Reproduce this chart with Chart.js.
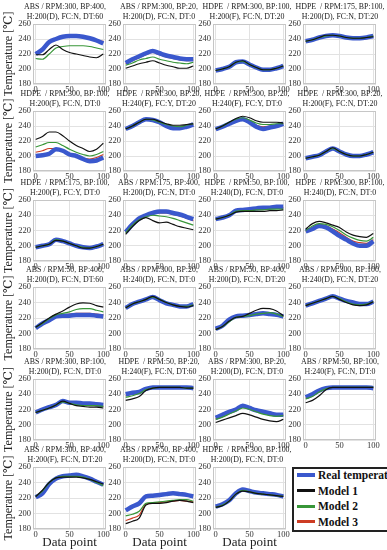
<!DOCTYPE html>
<html>
<head>
<meta charset="utf-8">
<script src="https://cdn.jsdelivr.net/npm/chart.js@4.4.1/dist/chart.umd.min.js"></script>
<style>
html, body { margin: 0; padding: 0; background: #fff; }
body { width: 387px; height: 550px; position: relative; overflow: hidden; }
canvas { position: absolute; }
.ptitle { position: absolute; width: 130px; text-align: center; white-space: pre;
  font: 7.9px/10.5px 'Liberation Serif', 'DejaVu Serif', serif; color: #222; }
#legend { position: absolute; left: 292px; top: 467px; width: 120px; height: 61px; border: 2px solid #222;
  font: bold 11.5px 'Liberation Serif', 'DejaVu Serif', serif; color: #111; background: #fff; }
#legend .item { position: absolute; left: 0; height: 14px; line-height: 14px; white-space: nowrap; }
#legend .sw { position: absolute; left: 3px; width: 18px; }
#legend .txt { position: absolute; left: 24px; top: 0; }
</style>
</head>
<body>
<div id="legend"></div>
<script>
// x positions of the sampled points, ticks
const xPoints = [0, 10, 20, 30, 40, 50, 60, 70, 80, 90, 100];
const xTicks = [0, 50, 100];
const yTicks = [180, 200, 220, 240, 260];

const seriesNames = ['Real temperature', 'Model 1', 'Model 2', 'Model 3'];
const seriesColors = ['rgb(58,88,205)', '#111111', 'rgb(56,150,56)', 'rgb(205,60,35)'];

const panelTitles = [
  ['ABS / RPM:300, BP:400,', 'H:200(D), FC:N, DT:60'],
  ['ABS / RPM:300, BP:20,', 'H:200(D), FC:N, DT:0'],
  ['HDPE  / RPM:300, BP:100,', 'H:200(F), FC:N, DT:20'],
  ['HDPE  / RPM:175, BP:100,', 'H:200(D), FC:N, DT:20'],
  ['HDPE  / RPM:300, BP:100,', 'H:200(F), FC:N, DT:0'],
  ['HDPE  / RPM:300, BP:20,', 'H:240(F), FC:Y, DT:20'],
  ['HDPE  / RPM:300, BP:20,', 'H:240(F), FC:Y, DT:0'],
  ['HDPE  / RPM:300, BP:20,', 'H:200(F), FC:N, DT:20'],
  ['HDPE  / RPM:175, BP:100,', 'H:200(F), FC:Y, DT:0'],
  ['ABS / RPM:175, BP:400,', 'H:200(D), FC:N, DT:0'],
  ['HDPE  / RPM:50, BP:100,', 'H:240(D), FC:N, DT:0'],
  ['HDPE  / RPM:300, BP:100,', 'H:240(D), FC:N, DT:0'],
  ['ABS / RPM:50, BP:400,', 'H:200(D), FC:N, DT:60'],
  ['ABS / RPM:300, BP:20,', 'H:240(D), FC:N, DT:0'],
  ['ABS / RPM:50, BP:400,', 'H:200(D), FC:N, DT:20'],
  ['ABS / RPM:300, BP:100,', 'H:240(D), FC:N, DT:20'],
  ['ABS / RPM:300, BP:100,', 'H:200(D), FC:N, DT:0'],
  ['HDPE  / RPM:50, BP:20,', 'H:240(F), FC:N, DT:60'],
  ['ABS / RPM:300, BP:20,', 'H:200(D), FC:N, DT:0'],
  ['ABS / RPM:50, BP:100,', 'H:240(F), FC:N, DT:0'],
  ['ABS / RPM:300, BP:400,', 'H:200(F), FC:N, DT:20'],
  ['ABS / RPM:50, BP:400,', 'H:200(D), FC:N, DT:0'],
  ['HDPE  / RPM:300, BP:100,', 'H:200(D), FC:N, DT:0']
];

const realTemp = [
  [220, 226, 236, 240, 243, 244, 244, 243, 241, 238, 234],
  [208, 213, 217, 221, 224, 221, 218, 216, 214, 213, 213],
  [198, 200, 203, 209, 210, 206, 202, 199, 199, 201, 204],
  [237, 239, 242, 244, 245, 244, 242, 241, 241, 242, 244],
  [200, 201, 203, 209, 207, 202, 200, 196, 193, 194, 198],
  [236, 240, 245, 249, 248, 245, 240, 237, 237, 239, 242],
  [236, 239, 243, 247, 249, 245, 239, 236, 238, 240, 243],
  [197, 199, 201, 206, 210, 206, 202, 200, 200, 202, 205],
  [198, 200, 202, 208, 206, 203, 200, 198, 197, 199, 202],
  [218, 228, 236, 240, 243, 245, 245, 243, 241, 238, 235],
  [235, 237, 240, 246, 247, 248, 249, 250, 250, 251, 251],
  [219, 222, 226, 224, 219, 213, 208, 203, 200, 200, 206],
  [207, 213, 217, 222, 223, 223, 224, 224, 224, 223, 222],
  [233, 238, 241, 244, 247, 243, 239, 237, 235, 235, 238],
  [206, 210, 218, 222, 223, 224, 225, 226, 225, 224, 222],
  [236, 239, 242, 245, 248, 245, 242, 240, 238, 238, 241],
  [216, 220, 223, 226, 231, 229, 229, 228, 228, 227, 226],
  [240, 242, 243, 247, 249, 249, 249, 249, 249, 249, 248],
  [209, 213, 217, 220, 225, 222, 219, 217, 215, 213, 213],
  [236, 240, 245, 248, 249, 249, 249, 249, 249, 249, 248],
  [221, 226, 238, 245, 248, 249, 250, 248, 245, 241, 237],
  [204, 209, 213, 222, 223, 224, 225, 226, 225, 224, 222],
  [209, 212, 217, 226, 231, 229, 227, 226, 225, 224, 222]
];

const model1 = [
  [219, 219, 226, 232, 226, 222, 220, 218, 216, 215, 220],
  [201, 204, 207, 209, 211, 208, 205, 203, 201, 201, 204],
  [198, 200, 203, 209, 211, 206, 202, 199, 199, 201, 204],
  [237, 239, 242, 245, 245, 244, 242, 241, 241, 242, 243],
  [222, 226, 232, 232, 227, 220, 214, 210, 206, 209, 217],
  [236, 240, 245, 249, 249, 246, 243, 241, 241, 242, 243],
  [236, 240, 245, 250, 253, 251, 247, 245, 245, 245, 244],
  [197, 199, 201, 206, 211, 206, 202, 200, 200, 202, 205],
  [198, 200, 202, 207, 206, 203, 200, 197, 197, 199, 202],
  [215, 225, 233, 237, 233, 230, 231, 228, 225, 223, 221],
  [235, 237, 240, 244, 245, 245, 245, 245, 246, 246, 247],
  [222, 229, 232, 230, 227, 224, 218, 214, 212, 211, 216],
  [208, 214, 220, 225, 229, 234, 238, 239.5, 239, 236, 234],
  [233, 238, 241, 244, 248, 244, 240, 237, 235, 234, 236],
  [205, 209, 216, 221, 222, 226, 230, 232.5, 232, 229, 223],
  [236, 239, 242, 245, 248, 244, 240, 237, 236, 237, 241],
  [216, 219, 222, 226, 231, 228, 225, 224, 223, 223, 222],
  [232, 234, 237, 245, 248, 249, 249, 249, 249, 248, 248],
  [203, 206, 209, 212, 215, 213, 210, 207, 205, 204, 207],
  [229, 232, 238, 246, 249, 249, 249, 249, 249, 249, 249],
  [222, 230, 240, 246, 247, 247, 247, 246, 244, 241, 238],
  [187, 190, 194, 211, 213, 213, 214, 216, 217, 216, 214],
  [208, 210, 216, 225, 229, 228, 226, 225, 224, 223, 222]
];

const model2 = [
  [214, 213, 220, 228, 230, 231, 231, 231, 230, 228, 226],
  [205, 208, 212, 214, 216, 213, 211, 209, 208, 207, 209],
  [198, 200, 203, 209, 210, 206, 202, 199, 199, 201, 204],
  [237, 239, 242, 244, 245, 244, 242, 241, 241, 242, 244],
  [212, 215, 218, 218, 214, 209, 205, 202, 200, 202, 206],
  [236, 240, 245, 249, 248, 245, 242, 240, 239, 241, 243],
  [236, 240, 245, 249, 251, 248, 244, 242, 242, 243, 243],
  [197, 199, 201, 206, 210, 206, 202, 200, 200, 202, 205],
  [198, 200, 202, 208, 206, 203, 200, 198, 197, 199, 202],
  [217, 227, 234, 238, 240, 239, 238, 236, 233, 230, 227],
  [235, 237, 240, 245, 246, 246, 247, 247, 248, 248, 248],
  [220, 226, 229, 228, 225, 220, 214, 210, 207, 206, 211],
  [208, 213, 219, 224, 226, 228, 231, 232, 232, 230, 228],
  [233, 238, 241, 244, 247, 244, 240, 237, 235, 235, 237],
  [205, 209, 215, 221, 222, 223, 225, 226, 227, 225, 222],
  [236, 239, 242, 245, 248, 245, 241, 238, 237, 238, 241],
  [216, 219, 222, 226, 230, 228, 226, 225, 225, 225, 224],
  [236, 238, 241, 246, 248, 249, 249, 249, 249, 248, 248],
  [207, 210, 214, 218, 222, 220, 217, 214, 212, 211, 212],
  [234, 237, 243, 247, 249, 249, 249, 249, 249, 249, 249],
  [222, 229, 240, 246, 248, 248, 248, 247, 244, 240, 236],
  [197, 199, 203, 213, 214, 215, 216, 217, 218, 218, 216],
  [208, 211, 216, 225, 230, 228, 226, 225, 224, 223, 222]
];

const model3 = [
  [221, 226, 235, 240, 242, 243, 243, 242, 240, 238, 237],
  [207, 211, 215, 219, 222, 219, 216, 214, 212, 211, 212],
  [198, 200, 203, 209, 210, 206, 202, 199, 199, 201, 204],
  [237, 239, 242, 244, 245, 244, 242, 241, 241, 242, 244],
  [205, 207, 210, 210, 206, 202, 199, 197, 196, 198, 202],
  [236, 240, 245, 249, 248, 245, 241, 238, 238, 240, 242],
  [236, 239, 244, 248, 250, 246, 241, 239, 240, 241, 243],
  [197, 199, 201, 206, 210, 206, 202, 200, 200, 202, 205],
  [198, 200, 202, 208, 206, 203, 200, 198, 197, 199, 202],
  [218, 227, 235, 239, 242, 243, 243, 241, 239, 236, 233],
  [235, 237, 240, 245, 247, 247, 248, 249, 249, 250, 250],
  [219, 224, 228, 226, 222, 217, 211, 206, 204, 203, 208],
  [208, 213, 218, 223, 224, 225, 226, 226, 226, 225, 224],
  [233, 238, 241, 244, 247, 243, 239, 237, 235, 235, 238],
  [206, 210, 217, 221, 222, 224, 225, 226, 226, 225, 222],
  [236, 239, 242, 245, 248, 245, 242, 239, 238, 238, 241],
  [216, 219, 223, 226, 231, 229, 227, 226, 226, 225, 224],
  [238, 240, 242, 246, 249, 249, 249, 249, 249, 248, 248],
  [208, 212, 216, 219, 224, 221, 218, 216, 214, 212, 213],
  [235, 239, 244, 248, 249, 249, 249, 249, 249, 249, 248],
  [221, 228, 239, 245, 248, 249, 249, 248, 245, 241, 237],
  [191, 194, 198, 212, 213, 214, 215, 216, 217, 216, 215],
  [209, 211, 216, 225, 230, 229, 227, 225, 225, 224, 222]
];

// layout of the grid of small plots (plot area edges in px)
const plotLeft = [33, 123, 213, 303];
const plotTop = [24, 111, 200, 287, 379, 467];
const plotBottom = [84, 171, 261, 349, 440, 529];
const plotW = 73;
const titleCentre = [32, 36, 34, 37];   // title centre measured from each plot's left edge

const serif = "'Liberation Serif', 'DejaVu Serif', serif";
Chart.defaults.font.family = serif;

// light grey box round each plot area
const frame = {
  id: 'frame',
  beforeDatasetsDraw(chart) {
    const {ctx, chartArea: a} = chart;
    ctx.save();
    ctx.strokeStyle = '#c6c6c6';
    ctx.lineWidth = 1;
    ctx.strokeRect(Math.round(a.left) + 0.5, Math.round(a.top) + 0.5, Math.round(a.width) - 1, Math.round(a.height) - 1);
    ctx.restore();
  }
};

const lineWidths = [4.5, 1.2, 1.2, 1.2];
const drawOrder = [2, 0, 1, 3];

panelTitles.forEach((title, i) => {
  const r = Math.floor(i / 4), c = i % 4;
  const firstCol = c === 0, lastRow = r === 5;
  const xAxisH = lastRow ? 550 - plotBottom[r] : 12;

  const cv = document.createElement('canvas');
  cv.width = 33 + plotW + 8;
  cv.height = 24 + plotBottom[r] - plotTop[r] + xAxisH;
  cv.style.left = (plotLeft[c] - 33) + 'px';
  cv.style.top = (plotTop[r] - 24) + 'px';
  document.body.appendChild(cv);

  // two-line subplot title above the plot area
  const tdiv = document.createElement('div');
  tdiv.className = 'ptitle';
  tdiv.textContent = title.join('\n');
  tdiv.style.left = (plotLeft[c] + titleCentre[c] - 65) + 'px';
  tdiv.style.top = (plotTop[r] - 22.5) + 'px';
  document.body.appendChild(tdiv);

  const series = [realTemp[i], model1[i], model2[i], model3[i]];

  new Chart(cv, {
    type: 'line',
    data: {
      datasets: series.map((vals, k) => ({
        label: seriesNames[k],
        data: vals.map((v, j) => ({x: xPoints[j], y: v})),
        borderColor: seriesColors[k],
        borderWidth: lineWidths[k],
        pointRadius: 0,
        cubicInterpolationMode: 'monotone',
        order: drawOrder[k],
        fill: false
      }))
    },
    options: {
      responsive: false,
      animation: false,
      events: [],
      layout: {padding: {left: 0, right: 8, top: 24, bottom: 0}},
      plugins: {
        legend: {display: false},
        tooltip: {enabled: false},
        title: {display: false}
      },
      scales: {
        x: {
          type: 'linear', min: -4, max: 104,
          afterBuildTicks: s => { s.ticks = xTicks.map(v => ({value: v})); },
          afterFit: s => { s.height = xAxisH; },
          grid: {color: '#e2e2e2', drawTicks: false},
          border: {display: false},
          ticks: {color: '#333', font: {size: 8.5}, padding: 1, maxRotation: 0},
          title: {display: lastRow, text: 'Data point', color: '#222', font: {size: 13}, padding: 0}
        },
        y: {
          min: 180, max: 260,
          afterBuildTicks: s => { s.ticks = yTicks.map(v => ({value: v})); },
          afterFit: s => { s.width = 33; },
          grid: {color: '#e2e2e2', drawTicks: false},
          border: {display: false},
          ticks: {color: '#333', font: {size: 8.5}, padding: 2},
          title: {display: firstCol, text: 'Temperature [℃]', color: '#222', font: {size: 12}, padding: {top: 2, bottom: 0}}
        }
      }
    },
    plugins: [frame]
  });
});

// legend box in the empty bottom-right cell
const legend = document.getElementById('legend');
const swatchH = [4, 3, 3, 3];
seriesNames.forEach((name, k) => {
  const item = document.createElement('div');
  item.className = 'item';
  item.style.top = (-1 + k * 15.5) + 'px';
  item.innerHTML = '<span class="sw"></span><span class="txt"></span>';
  const sw = item.querySelector('.sw');
  sw.style.background = seriesColors[k];
  sw.style.height = swatchH[k] + 'px';
  sw.style.top = (7 - swatchH[k] / 2) + 'px';
  item.querySelector('.txt').textContent = name;
  legend.appendChild(item);
});
</script>
</body>
</html>
